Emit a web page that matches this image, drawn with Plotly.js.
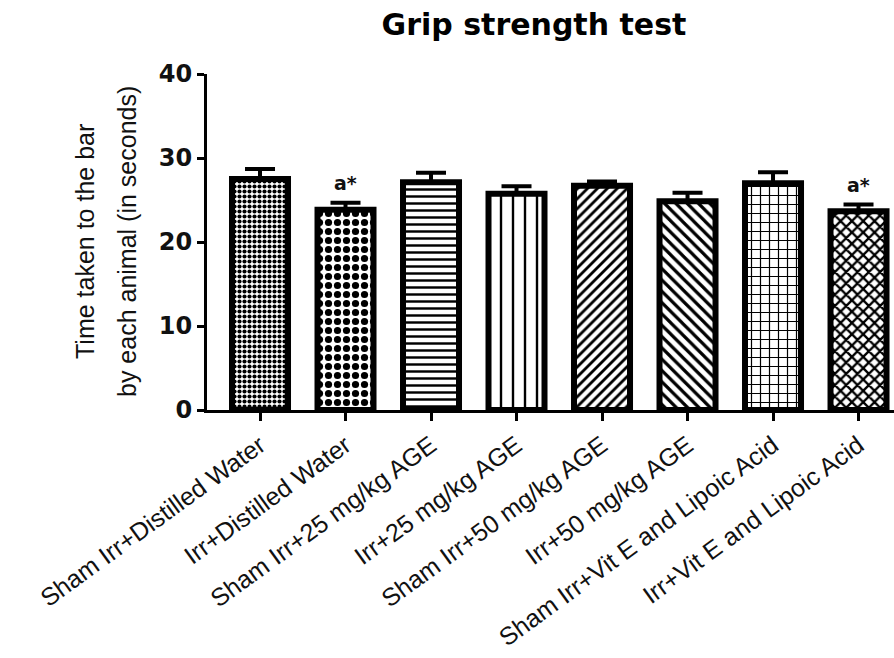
<!DOCTYPE html>
<html>
<head>
<meta charset="utf-8">
<script src="https://cdn.plot.ly/plotly-3.0.1.min.js"></script>
<style>html,body{margin:0;padding:0;background:#fff;}#chart{width:894px;height:658px;}</style>
</head>
<body>
<div id="chart"></div>
<script>
var categories = [
  "Sham Irr+Distilled Water",
  "Irr+Distilled Water",
  "Sham Irr+25 mg/kg AGE",
  "Irr+25 mg/kg AGE",
  "Sham Irr+50 mg/kg AGE",
  "Irr+50 mg/kg AGE",
  "Sham Irr+Vit E and Lipoic Acid",
  "Irr+Vit E and Lipoic Acid"
];
var meanValues = [27.5, 23.85, 27.1, 25.75, 26.7, 24.85, 27.0, 23.65];
var semValues  = [1.2, 0.83, 1.15, 0.9, 0.5, 1.0, 1.3, 0.8];
var significance = ["", "a*", "", "", "", "", "", "a*"];
var yTicks = [0, 10, 20, 30, 40];
var yTitleLines = ["Time taken to the bar", "by each animal (in seconds)"];

var patternShapes = [".", ".", "-", "|", "/", "\\", "+", "x"];
var patternSizes = [5, 9, 7, 12, 7, 8, 9, 8];
var patternSolidity = [0.55, 0.5, 0.35, 0.2, 0.4, 0.4, 0.25, 0.5];

var trace = {
  type: "bar",
  x: categories,
  y: meanValues,
  width: 0.655,
  marker: {
    color: "#ffffff",
    line: {color: "#000000", width: 6},
    pattern: {
      shape: patternShapes,
      size: patternSizes,
      solidity: patternSolidity,
      fgcolor: "#000000",
      bgcolor: "#ffffff",
      fillmode: "replace"
    }
  },
  error_y: {
    type: "data",
    symmetric: false,
    array: semValues,
    arrayminus: semValues.map(function(){return 0;}),
    color: "#000000",
    thickness: 4,
    width: 15
  },
  hoverinfo: "none"
};

var annotations = [];
for (var i = 0; i < categories.length; i++) {
  if (significance[i]) {
    annotations.push({
      x: categories[i], y: meanValues[i] + semValues[i],
      xref: "x", yref: "y",
      text: "<b>" + significance[i] + "</b>",
      showarrow: false, yanchor: "bottom", yshift: 7,
      font: {family: "DejaVu Sans", size: 19, color: "#111"}
    });
  }
}
// y-axis title, two lines
var yTitleX = [(85 - 207) / 687, (127 - 207) / 687];
for (var j = 0; j < yTitleLines.length; j++) {
  annotations.push({
    x: yTitleX[j], y: 0.5, xref: "paper", yref: "paper",
    xanchor: "center", yanchor: "middle",
    text: yTitleLines[j], textangle: -90, showarrow: false,
    font: {family: "Liberation Sans, Arial", size: 25, color: "#111"}
  });
}

var layout = {
  width: 894, height: 658,
  margin: {l: 207, r: 0, t: 74, b: 248},
  paper_bgcolor: "#ffffff", plot_bgcolor: "#ffffff",
  showlegend: false,
  title: {
    text: "<b>Grip strength test</b>",
    x: 534 / 894, xref: "container", xanchor: "center",
    y: 1 - 24 / 658, yref: "container", yanchor: "middle",
    font: {family: "DejaVu Sans", size: 30, color: "#000"}
  },
  xaxis: {
    type: "category",
    range: [-0.62, 7.415],
    showline: true, linecolor: "#000", linewidth: 3,
    ticks: "outside", ticklen: 8, tickwidth: 3, tickcolor: "#000",
    tickangle: -36,
    tickfont: {family: "Liberation Sans, Arial", size: 25, color: "#111"},
    showgrid: false, zeroline: false, automargin: false, fixedrange: true
  },
  yaxis: {
    range: [0, 40],
    tickvals: yTicks,
    ticktext: yTicks.map(function(v){return "<b>" + v + "</b>";}),
    showline: true, linecolor: "#000", linewidth: 3,
    ticks: "outside", ticklen: 7, tickwidth: 3, tickcolor: "#000",
    tickfont: {family: "DejaVu Sans", size: 24, color: "#111"},
    showgrid: false, zeroline: false, automargin: false, fixedrange: true
  },
  annotations: annotations,
  hovermode: false
};

Plotly.newPlot("chart", [trace], layout, {staticPlot: true, displayModeBar: false});
</script>
</body>
</html>
